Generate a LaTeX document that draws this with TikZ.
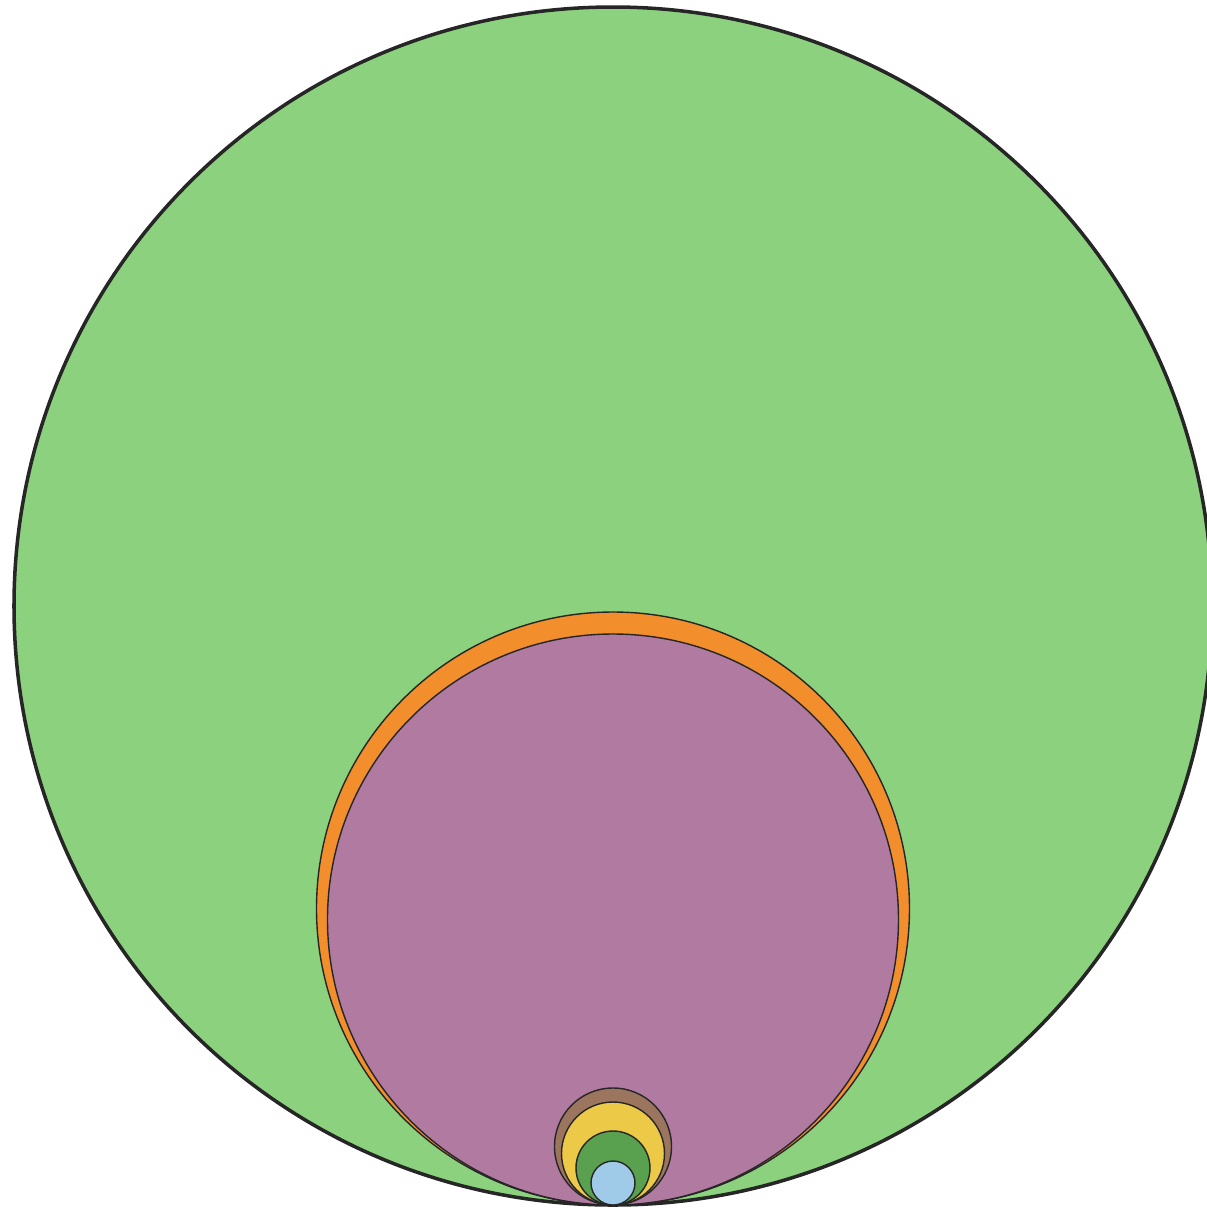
\documentclass[tikz,border=0pt]{standalone}
\usepackage{xcolor}
\usepackage{tikz}
\usetikzlibrary{calc}

\definecolor{outergreen}{HTML}{8CD17D}
\definecolor{ringorange}{HTML}{F28E2B}
\definecolor{innerpurple}{HTML}{B07AA1}
\definecolor{smallbrown}{HTML}{9C755F}
\definecolor{smallyellow}{HTML}{EDC948}
\definecolor{smallgreen}{HTML}{59A14F}
\definecolor{smallblue}{HTML}{A0CBE8}

\begin{document}
\begin{tikzpicture}[
   disc/.style={draw=black!85,line width=0.4pt},
   outerdisc/.style={draw=black!85,line width=1pt}]
  \useasboundingbox (0,0) rectangle (12.07,-12.08);
  \clip (0,0) rectangle (12.07,-12.08);
  % all circles touch the same bottom point
  \coordinate (tp) at (6.13,-12.05);
  \draw[outerdisc,fill=outergreen]  ($(tp)+(0,5.99)$)  circle (5.99);
  \draw[disc,fill=ringorange]       ($(tp)+(0,2.965)$) circle (2.965);
  \draw[disc,fill=innerpurple]      ($(tp)+(0,2.855)$) circle (2.855);
  \draw[disc,fill=smallbrown]       ($(tp)+(0,0.585)$) circle (0.585);
  \draw[disc,fill=smallyellow]      ($(tp)+(0,0.515)$) circle (0.515);
  \draw[disc,fill=smallgreen]       ($(tp)+(0,0.37)$)  circle (0.37);
  \draw[disc,fill=smallblue]        ($(tp)+(0,0.22)$)  circle (0.22);
\end{tikzpicture}
\end{document}
